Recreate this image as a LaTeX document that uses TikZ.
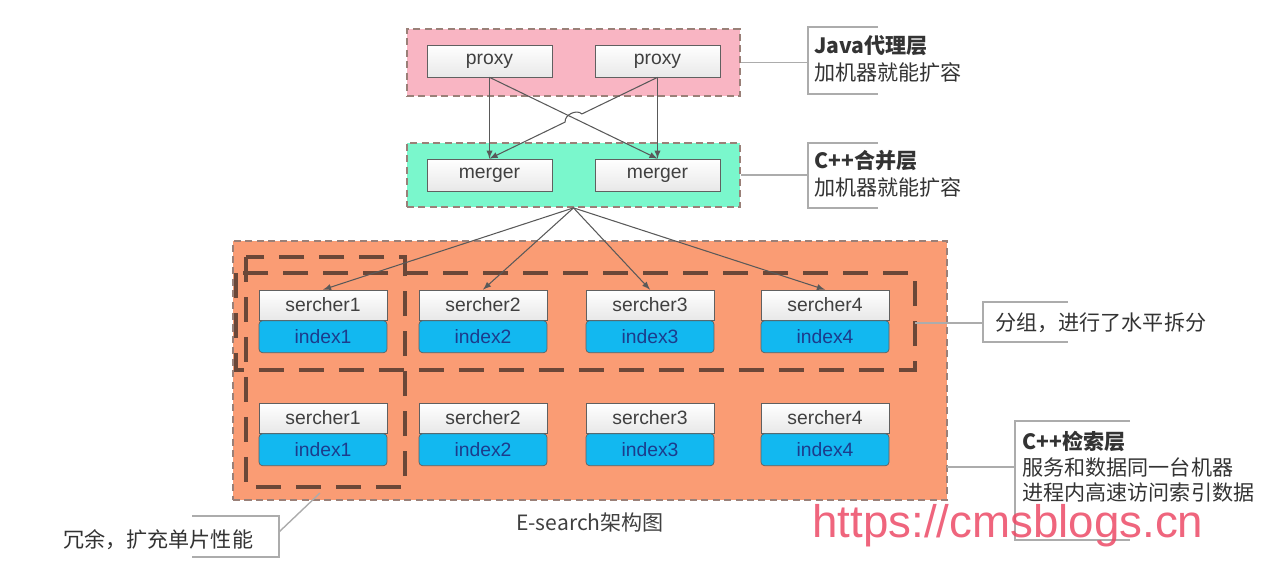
\documentclass[tikz,border=0pt]{standalone}
\usepackage{fontspec}
\setmainfont{Liberation Sans}
\newfontfamily\cjk{Noto Sans CJK SC}
\usepackage{tikz}
\usetikzlibrary{positioning,calc}

\definecolor{proxypink}{HTML}{F9B5C3}
\definecolor{mergeraqua}{HTML}{7AF7CC}
\definecolor{searchorange}{HTML}{FA9C74}
\definecolor{indexblue}{HTML}{12B8F0}
\definecolor{indextext}{HTML}{1C3C8C}
\definecolor{groupbrown}{HTML}{6B4738}
\definecolor{layerline}{HTML}{9A8078}
\definecolor{markred}{HTML}{EC4A66}

\tikzset{
  layer/.style={draw=layerline, line width=1pt, dash pattern=on 4pt off 2.5pt, inner sep=0pt},
  unit/.style={draw=gray!75!black, top color=white, bottom color=gray!18, minimum width=2.5cm,
    minimum height=0.64cm, inner sep=0pt, text=black!75, font=\fontsize{11}{13}\selectfont},
  searchbox/.style={unit, minimum width=2.56cm, minimum height=0.6cm},
  indexbox/.style={draw=gray!75!black, fill=indexblue, minimum width=2.56cm, minimum height=0.64cm,
    rounded corners=2pt, inner sep=0pt, text=indextext, font=\fontsize{11}{13}\selectfont},
  group/.style={draw=groupbrown, line width=2.8pt, dash pattern=on 0.5cm off 0.3cm},
  link/.style={draw=black!65, line width=0.6pt, -latex},
  note/.style={inner sep=0pt, align=left, text=black!80, font=\cjk\fontsize{12}{15.5}\selectfont},
  bracket/.style={draw=gray!65, line width=0.8pt}
}

\begin{document}
\begin{tikzpicture}[x=0.02cm, y=-0.02cm]
  \useasboundingbox (0,0) rectangle (1270,582);

  % Layers
  \node[layer, fill=proxypink, minimum width=6.66cm, minimum height=1.34cm] (proxylayer) at (573.5,62.5) {};
  \node[layer, fill=mergeraqua, minimum width=6.66cm, minimum height=1.28cm] (mergerlayer) at (573.5,175) {};
  \node[layer, fill=searchorange, minimum width=14.28cm, minimum height=5.18cm] (searchlayer) at (590,370.5) {};

  % Groups inside the search layer
  \draw[group] (236,273) rectangle (915,370);
  \draw[group] (246,257) rectangle (405,487);
  \coordinate (rowgroup) at (915,323);
  \coordinate (colgroup) at (320,493);

  % Proxy and merger units
  \node[unit] (p1) at (489.5,61) {proxy};
  \node[unit] (p2) at (657.5,61) {proxy};
  \node[unit] (m1) at (489.5,175) {merger};
  \node[unit] (m2) at (657.5,175) {merger};

  \draw[link] (p1.south) -- (m1.north);
  \draw[link] (p2.south) -- (m2.north);
  \draw[link] (p1.south) -- (m2.north);
  \draw[link] (p2.south) -- ($(p2.south)!0.45!(m1.north)$) to[bend right=70] ($(p2.south)!0.55!(m1.north)$) -- (m1.north);

  % Searchers with their index, two rows
  \foreach \i/\x in {1/323, 2/483, 3/650, 4/825} {
    \node[searchbox] (s\i) at (\x,305) {sercher\i};
    \node[indexbox, below=0pt of s\i] (i\i) {index\i};
    \node[searchbox] (t\i) at (\x,418) {sercher\i};
    \node[indexbox, below=0pt of t\i] (j\i) {index\i};
    \draw[link] (mergerlayer.south) -- (s\i.north);
  }

  % Notes on the right
  \node[note, anchor=west] (javanote) at (814,59) {{\bfseries Java代理层}\\加机器就能扩容};
  \draw[bracket] (878,27) -- (808,27) -- (808,94) -- (878,94);
  \coordinate (javabr) at (808,62.5);
  \draw[bracket] (proxylayer.east) -- (javabr);

  \node[note, anchor=west] (mergenote) at (814,174) {{\bfseries C++合并层}\\加机器就能扩容};
  \draw[bracket] (878,143) -- (808,143) -- (808,208) -- (878,208);
  \coordinate (mergebr) at (808,175);
  \draw[bracket] (mergerlayer.east) -- (mergebr);

  \node[note, anchor=west] (splitnote) at (995,323) {分组，进行了水平拆分};
  \draw[bracket] (1068,302) -- (983,302) -- (983,342) -- (1068,342);
  \coordinate (splitbr) at (983,323);
  \draw[bracket] (rowgroup) -- (splitbr);

  \node[note, anchor=north west, font=\cjk\fontsize{12}{14.5}\selectfont] (searchnote) at (1022,431)
    {{\bfseries C++检索层}\\服务和数据同一台机器\\进程内高速访问索引数据};
  \draw[bracket] (1130,421) -- (1015,421) -- (1015,540) -- (1130,540);
  \coordinate (searchtap) at (947,467);
  \coordinate (searchbr) at (1015,467);
  \draw[bracket] (searchtap) -- (searchbr);

  % Note on the left
  \node[note, anchor=west] (copynote) at (63,540) {冗余，扩充单片性能};
  \draw[bracket] (192,516) -- (279,516) -- (279,557) -- (192,557);
  \coordinate (copybr) at (279,532);
  \draw[bracket] (copybr) -- (colgroup);

  % Caption and mark
  \node[note, text=black!75] (caption) at (590,522) {E-search架构图};
  \node[anchor=west, inner sep=0pt, text=markred, opacity=0.85, font=\fontsize{26}{30}\selectfont] (mark) at (812,526) {https://cmsblogs.cn};
\end{tikzpicture}
\end{document}
